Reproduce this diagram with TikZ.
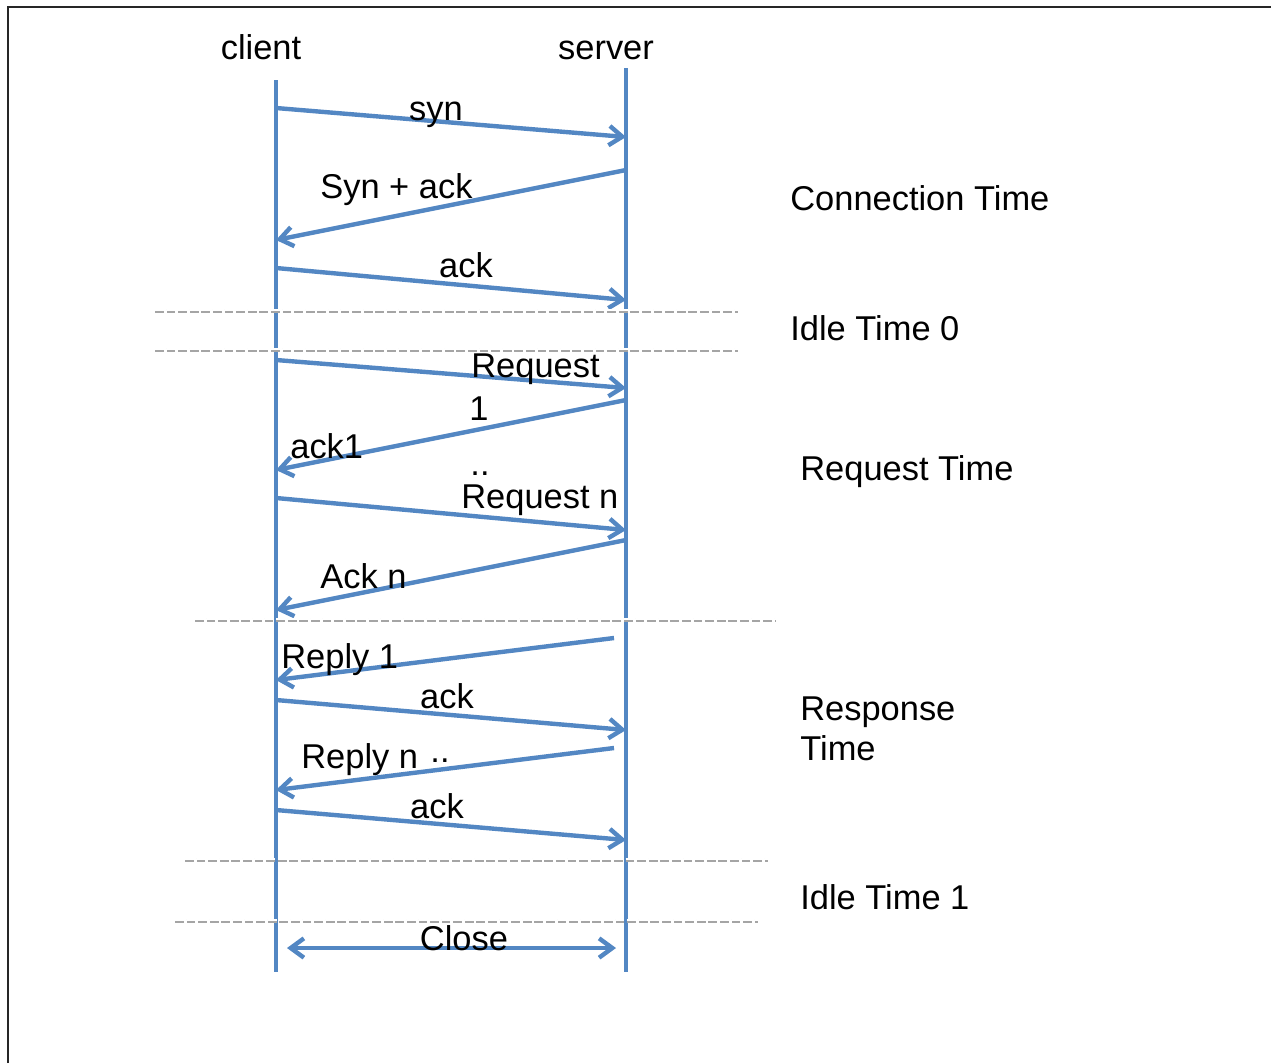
\documentclass[tikz,border=0pt]{standalone}
\usepackage{fontspec}
\setmainfont{Liberation Sans}
\usetikzlibrary{arrows.meta}
\definecolor{lineblue}{RGB}{83,135,195}
\definecolor{sepgray}{RGB}{165,165,165}
\tikzset{
  lifeline/.style={draw=lineblue, line width=2.5pt},
  msg/.style={draw=lineblue, line width=2.5pt,
    -{Straight Barb[length=7.5pt,width=11pt]}},
  closemsg/.style={draw=lineblue, line width=2.5pt,
    {Straight Barb[length=7.5pt,width=11pt]}-{Straight Barb[length=7.5pt,width=11pt]}},
  sepline/.style={draw=sepgray, line width=2pt, dash pattern=on 5pt off 1.6pt},
  sephi/.style={draw=white, line width=0.7pt, dash pattern=on 5pt off 1.6pt},
  lbl/.style={inner sep=0pt, font=\fontsize{19.6}{23}\selectfont, text=black},
}
\begin{document}
\begin{tikzpicture}[x=0.02cm, y=-0.02cm]
\useasboundingbox (0,0) rectangle (1271,1063);
\fill[white] (0,0) rectangle (1271,1063);
% outer frame (top and left edges)
\draw[black!85, line width=1pt] (8,1063) -- (8,7) -- (1271,7);

% lifelines
\coordinate (cTop) at (276,80);
\coordinate (cBot) at (276,972);
\coordinate (sTop) at (626,68);
\coordinate (sBot) at (626,972);
\draw[lifeline] (cTop) -- (cBot);
\draw[lifeline] (sTop) -- (sBot);
\node[lbl, anchor=base] (client) at (261,59) {client};
\node[lbl, anchor=base] (server) at (606,59) {server};

% message end points
\coordinate (a1) at (276,108); \coordinate (b1) at (626,137);
\coordinate (a2) at (626,170); \coordinate (b2) at (276,240);
\coordinate (a3) at (276,268); \coordinate (b3) at (626,300);
\coordinate (a4) at (276,360); \coordinate (b4) at (626,388);
\coordinate (a5) at (626,400); \coordinate (b5) at (276,470);
\coordinate (a6) at (276,498); \coordinate (b6) at (626,530);
\coordinate (a7) at (626,540); \coordinate (b7) at (276,610);
\coordinate (a8) at (614,638); \coordinate (b8) at (276,680);
\coordinate (a9) at (276,700); \coordinate (b9) at (626,730);
\coordinate (a10) at (614,748); \coordinate (b10) at (276,790);
\coordinate (a11) at (276,810); \coordinate (b11) at (626,840);
\coordinate (a12) at (287,948); \coordinate (b12) at (616,948);

\foreach \i in {1,...,11} \draw[msg] (a\i) -- (b\i);
\draw[closemsg] (a12) -- (b12);

% phase separators
\coordinate (d1l) at (155,311); \coordinate (d1r) at (738,311);
\coordinate (d2l) at (155,350); \coordinate (d2r) at (738,350);
\coordinate (d3l) at (195,620); \coordinate (d3r) at (775,620);
\coordinate (d4l) at (185,860); \coordinate (d4r) at (768,860);
\coordinate (d5l) at (175,921); \coordinate (d5r) at (758,921);
\foreach \i in {1,...,5} {
  \draw[sepline] (d\i l) -- (d\i r);
  \draw[sephi] ([yshift=0.6pt]d\i l) -- ([yshift=0.6pt]d\i r);
}

% message labels
\node[lbl, anchor=base] (tsyn) at (436,120) {syn};
\node[lbl, anchor=base west] (tsynack) at (320,198) {Syn + ack};
\node[lbl, anchor=base] (tack1) at (466,277) {ack};
\node[lbl, anchor=base west] (treq1) at (471,377) {Request};
\node[lbl, anchor=base] (tone) at (479,420) {1};
\node[lbl, anchor=base west] (tackone) at (290,458) {ack1};
\node[lbl, anchor=base] (tdots1) at (480,475) {..};
\node[lbl, anchor=base west] (treqn) at (461,508) {Request n};
\node[lbl, anchor=base west] (tackn) at (320,588) {Ack n};
\node[lbl, anchor=base west] (trep1) at (281,668) {Reply 1};
\node[lbl, anchor=base] (tack2) at (447,708) {ack};
\node[lbl, anchor=base west] (trepn) at (301,768) {Reply n};
\node[lbl, anchor=base] (tdots2) at (440,762) {..};
\node[lbl, anchor=base] (tack3) at (437,818) {ack};
\node[lbl, anchor=base] (tclose) at (464,950) {Close};

% phase names
\node[lbl, anchor=base west] (pconn) at (790,210) {Connection Time};
\node[lbl, anchor=base west] (pidle0) at (790,340) {Idle Time 0};
\node[lbl, anchor=base west] (preq) at (800,480) {Request Time};
\node[lbl, anchor=base west] (presp) at (800,720) {Response};
\node[lbl, anchor=base west] (presp2) at (800,760) {Time};
\node[lbl, anchor=base west] (pidle1) at (800,909) {Idle Time 1};
\end{tikzpicture}
\end{document}
